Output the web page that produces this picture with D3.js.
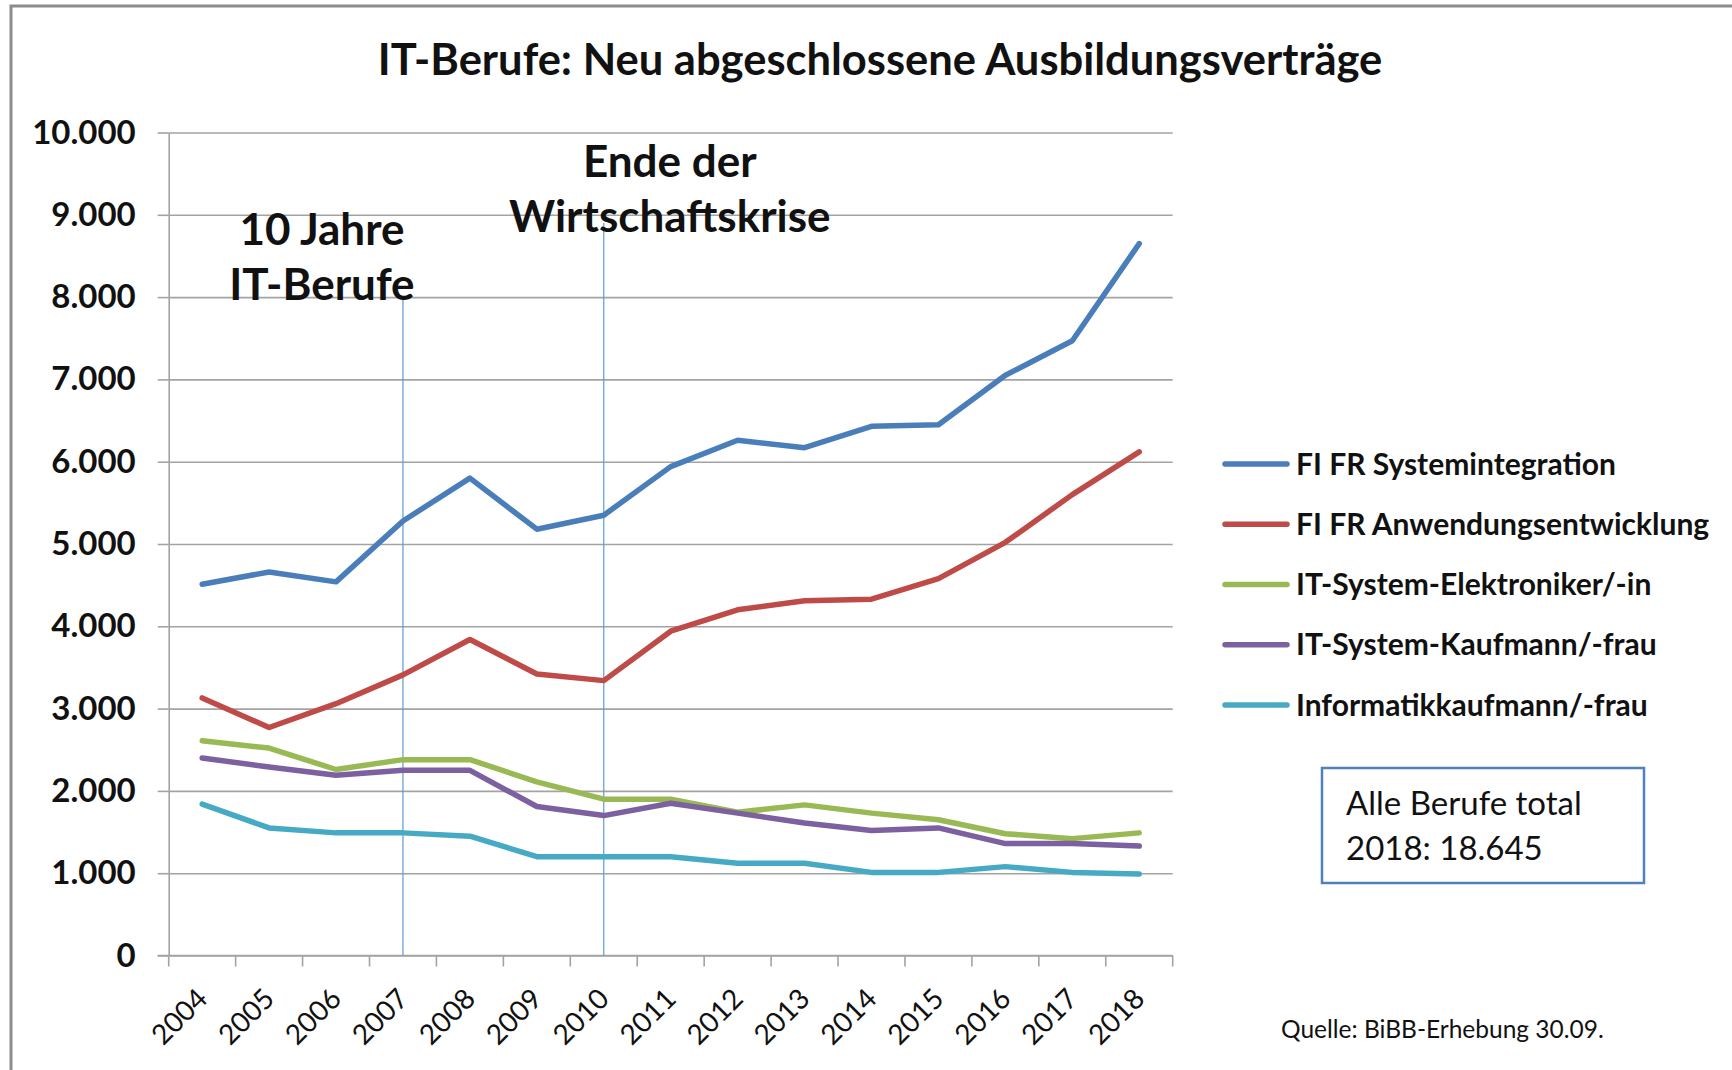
<!DOCTYPE html>
<html lang="de">

<head>
    <meta charset="UTF-8">
    <title>IT-Berufe: Neu abgeschlossene Ausbildungsverträge</title>
    <script src="https://d3js.org/d3.v7.min.js"></script>
    <style>
        body { margin: 0; background: #fff; }
        svg { display: block; font-family: Lato, "Open Sans", sans-serif; }
        .grid line { stroke: #a3a3a3; stroke-width: 1.6px; }
        .grid .domain { display: none; }
        .axis path, .axis line { stroke: #a3a3a3; stroke-width: 1.6px; }
        .series { fill: none; stroke-width: 5.5px; stroke-linejoin: round; stroke-linecap: round; }
    </style>
</head>

<body>
    <svg width="1732" height="1070"></svg>

    <script>
        // values (Ausbildungsverträge per year)
        const years = [2004, 2005, 2006, 2007, 2008, 2009, 2010, 2011, 2012, 2013, 2014, 2015, 2016, 2017, 2018];
        const systemintegration = [4510, 4660, 4540, 5280, 5800, 5180, 5350, 5940, 6260, 6170, 6430, 6450, 7050, 7470, 8650];
        const anwendungsentwicklung = [3130, 2770, 3060, 3410, 3840, 3420, 3340, 3940, 4200, 4310, 4330, 4580, 5020, 5600, 6120];
        const elektroniker = [2610, 2520, 2260, 2380, 2380, 2110, 1900, 1900, 1740, 1830, 1730, 1650, 1480, 1420, 1490];
        const systemKaufmann = [2400, 2290, 2190, 2250, 2250, 1810, 1700, 1850, 1730, 1610, 1520, 1550, 1360, 1360, 1330];
        const informatikKaufmann = [1840, 1550, 1490, 1490, 1450, 1200, 1200, 1200, 1120, 1120, 1010, 1010, 1080, 1010, 990];

        const seriesNames = ["FI FR Systemintegration", "FI FR Anwendungsentwicklung", "IT-System-Elektroniker/-in", "IT-System-Kaufmann/-frau", "Informatikkaufmann/-frau"];
        const seriesValues = [systemintegration, anwendungsentwicklung, elektroniker, systemKaufmann, informatikKaufmann];
        const seriesColors = ["#4a7ebb", "#be4b48", "#98b954", "#7d60a0", "#46aac5"];

        const yTicks = [0, 1000, 2000, 3000, 4000, 5000, 6000, 7000, 8000, 9000, 10000];

        // vertical markers: year, top value, text
        const markerYears = [2007, 2010];
        const markerTops = [8000, 8900];
        const markerTexts = [["10 Jahre", "IT-Berufe"], ["Ende der", "Wirtschaftskrise"]];

        const title = "IT-Berufe: Neu abgeschlossene Ausbildungsverträge";
        const boxLines = ["Alle Berufe total", "2018: 18.645"];
        const source = "Quelle: BiBB-Erhebung 30.09.";

        const de = d3.formatLocale({ decimal: ",", thousands: ".", grouping: [3], currency: ["", " €"] });
        const fmt = de.format(",d");

        const svg = d3.select("svg");

        // outer frame
        svg.append("path")
            .attr("d", "M11,1075 L11,6 L1740,6")
            .attr("fill", "none")
            .attr("stroke", "#8c8c8c")
            .attr("stroke-width", 3);

        const plotLeft = 168.7, plotRight = 1172.7, plotTop = 132.5, plotBottom = 955.5;

        const x = d3.scaleBand().domain(years).range([plotLeft, plotRight]).padding(0);
        const xc = d => x(d) + x.bandwidth() / 2;
        const y = d3.scaleLinear().domain([0, 10000]).range([plotBottom, plotTop]);

        // title
        svg.append("text")
            .attr("x", 880)
            .attr("y", 75)
            .attr("text-anchor", "middle")
            .attr("font-weight", 700)
            .attr("font-size", 43.5)
            .attr("fill", "#111")
            .text(title);

        // gridlines
        svg.append("g")
            .attr("class", "grid")
            .attr("transform", `translate(${plotLeft},0)`)
            .call(d3.axisLeft(y).tickValues(yTicks).tickSize(-(plotRight - plotLeft)).tickFormat(""));

        // y axis
        const yAxis = svg.append("g")
            .attr("class", "axis")
            .attr("transform", `translate(${plotLeft},0)`)
            .call(d3.axisLeft(y).tickValues(yTicks).tickSizeInner(11).tickSizeOuter(0).tickPadding(22).tickFormat(fmt));
        yAxis.selectAll("text")
            .attr("font-family", "Lato, sans-serif")
            .attr("font-weight", 700)
            .attr("font-size", 33)
            .attr("fill", "#111");

        // x axis (ticks at category boundaries)
        const xAxis = svg.append("g")
            .attr("class", "axis")
            .attr("transform", `translate(0,${plotBottom})`);
        xAxis.append("line")
            .attr("x1", plotLeft - 11).attr("x2", plotRight)
            .attr("y1", 0).attr("y2", 0);
        xAxis.selectAll(".tk")
            .data(years.concat([null]))
            .join("line")
            .attr("class", "tk")
            .attr("x1", (d, i) => i < years.length ? x(d) : plotRight)
            .attr("x2", (d, i) => i < years.length ? x(d) : plotRight)
            .attr("y1", 0).attr("y2", 11);
        xAxis.selectAll(".lbl")
            .data(years)
            .join("text")
            .attr("class", "lbl")
            .attr("transform", d => `translate(${xc(d) + 7},45) rotate(-45)`)
            .attr("text-anchor", "end")
            .attr("font-size", 28)
            .attr("fill", "#111")
            .text(d => d);

        // marker lines + labels
        markerYears.forEach((yr, i) => {
            svg.append("line")
                .attr("x1", xc(yr)).attr("x2", xc(yr))
                .attr("y1", y(markerTops[i])).attr("y2", plotBottom)
                .attr("stroke", "#5b9bd5")
                .attr("stroke-width", 1.2);
        });
        const markerLabelX = [xc(2007) - 81, xc(2010) + 66];
        const markerLabelY = [245, 177];
        markerTexts.forEach((lines, i) => {
            lines.forEach((t, j) => {
                svg.append("text")
                    .attr("x", markerLabelX[i])
                    .attr("y", markerLabelY[i] + j * 55)
                    .attr("text-anchor", "middle")
                    .attr("font-weight", 700)
                    .attr("font-size", 44)
                    .attr("fill", "#111")
                    .text(t);
            });
        });

        // series lines
        const line = d3.line()
            .x((d, i) => xc(years[i]))
            .y(d => y(d));

        svg.append("g")
            .selectAll("path")
            .data(seriesValues)
            .join("path")
            .attr("class", "series")
            .attr("stroke", (d, i) => seriesColors[i])
            .attr("d", line);

        // legend
        const legendY = d3.scalePoint().domain(seriesNames).range([464, 705]);
        const legend = svg.append("g")
            .selectAll("g")
            .data(seriesNames)
            .join("g")
            .attr("transform", d => `translate(0,${legendY(d)})`);
        legend.append("line")
            .attr("x1", 1225).attr("x2", 1287)
            .attr("stroke", (d, i) => seriesColors[i])
            .attr("stroke-width", 5.5)
            .attr("stroke-linecap", "round");
        legend.append("text")
            .attr("x", 1296)
            .attr("y", 10.5)
            .attr("font-weight", 700)
            .attr("font-size", 30)
            .attr("fill", "#111")
            .text(d => d);

        // total box
        svg.append("rect")
            .attr("x", 1322).attr("y", 768)
            .attr("width", 322).attr("height", 115)
            .attr("fill", "#fff")
            .attr("stroke", "#4f81bd")
            .attr("stroke-width", 2.5);
        boxLines.forEach((t, i) => {
            svg.append("text")
                .attr("x", 1346)
                .attr("y", 815 + i * 45)
                .attr("font-size", 33)
                .attr("fill", "#111")
                .text(t);
        });

        // source note
        svg.append("text")
            .attr("x", 1281)
            .attr("y", 1038)
            .attr("font-size", 24.5)
            .attr("fill", "#111")
            .text(source);
    </script>
</body>

</html>
